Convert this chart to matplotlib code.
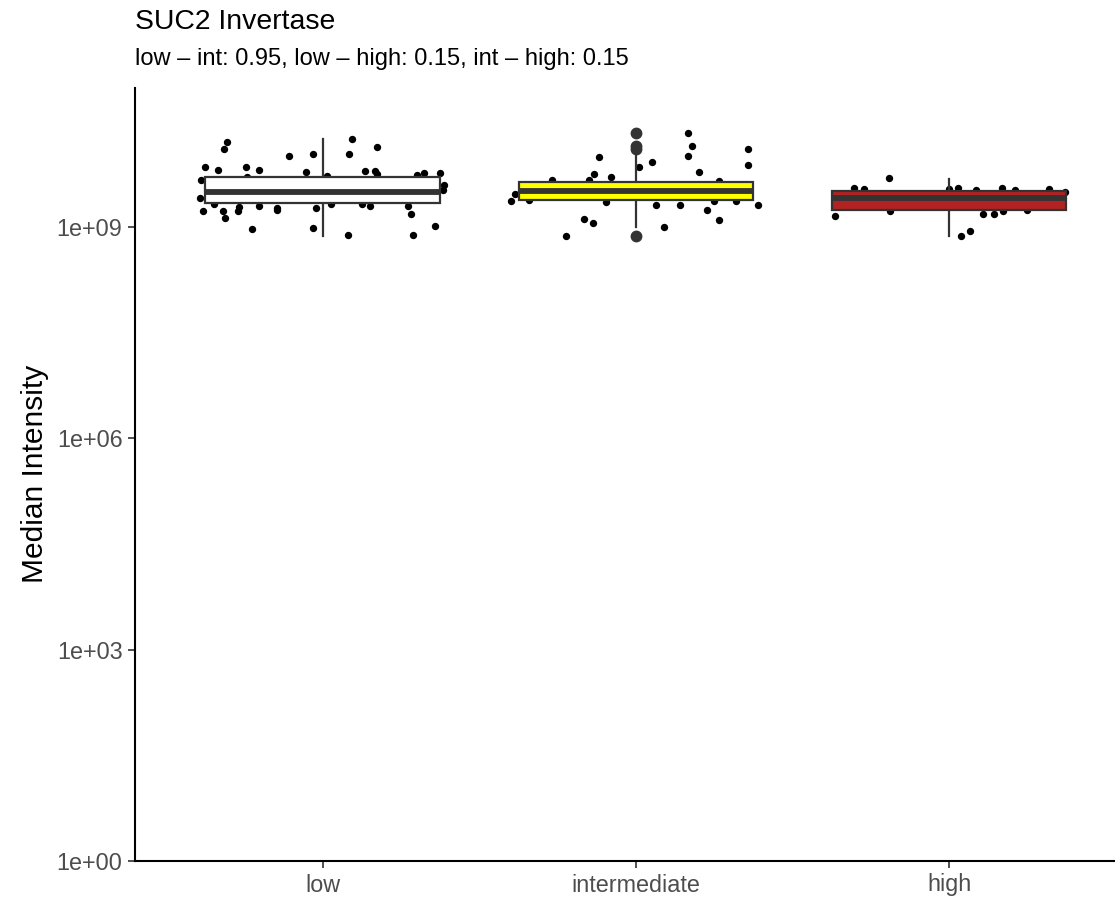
import numpy as np
import matplotlib
matplotlib.use("Agg")
import matplotlib.pyplot as plt

plt.rcParams['font.family'] = ['Liberation Sans', 'DejaVu Sans']

# groups and box colours
groups = ['low', 'intermediate', 'high']
fills = ['#FFFFFF', '#FFFF00', '#B22222']

# jittered points: horizontal offset (category units) and log10 median intensity
low_off = [-0.306, -0.316, -0.375, -0.335, -0.246, -0.204, -0.109, -0.033, -0.053, -0.390,
           -0.242, -0.392, -0.348, -0.384, -0.319, -0.311, -0.269, -0.271, -0.204, -0.145,
           -0.147, -0.227, -0.022, -0.031, 0.092, 0.083, 0.172, 0.134, 0.168, 0.173,
           0.012, 0.300, 0.324, 0.374, 0.387, 0.384, 0.025, 0.126, 0.150, 0.271,
           0.283, 0.358, 0.079, 0.287]
low_log = [10.202, 10.107, 9.856, 9.809, 9.848, 9.809, 10.004, 10.032, 9.785, 9.667,
           9.714, 9.416, 9.322, 9.227, 9.227, 9.124, 9.288, 9.227, 9.302, 9.274,
           9.237, 8.972, 9.265, 8.982, 10.249, 10.032, 10.136, 9.795, 9.795, 9.757,
           9.728, 9.738, 9.771, 9.771, 9.596, 9.521, 9.327, 9.327, 9.294, 9.302,
           9.180, 9.018, 8.886, 8.886]

int_off = [-0.119, -0.133, -0.149, -0.081, -0.268, -0.386, -0.398, -0.342, -0.095, -0.165,
           -0.138, -0.224, 0.009, 0.165, 0.180, 0.165, 0.050, 0.200, 0.357, 0.358,
           0.265, 0.063, 0.141, 0.249, 0.318, 0.390, 0.227, 0.265, 0.089]
int_log = [9.990, 9.752, 9.667, 9.706, 9.667, 9.468, 9.365, 9.383, 9.359, 9.118,
           9.053, 8.876, 9.856, 10.339, 10.154, 10.012, 9.918, 9.777, 10.103, 9.880,
           9.649, 9.308, 9.308, 9.365, 9.373, 9.308, 9.241, 9.099, 8.996]

high_off = [-0.191, -0.303, -0.272, -0.363, -0.189, 0.000, 0.027, 0.086, 0.168, 0.212,
            0.320, 0.370, 0.107, 0.144, 0.171, 0.248, 0.037, 0.066]
high_log = [9.689, 9.549, 9.537, 9.160, 9.234, 9.537, 9.549, 9.518, 9.558, 9.518,
            9.537, 9.501, 9.182, 9.187, 9.227, 9.241, 8.868, 8.943]

# box statistics (log10)
box_q1 = [9.345, 9.383, 9.241]
box_med = [9.501, 9.507, 9.407]
box_q3 = [9.706, 9.643, 9.511]
box_lo = [8.876, 8.996, 8.868]
box_hi = [10.245, 10.012, 9.677]
box_fliers = [[], [10.339, 10.154, 10.103, 8.876], []]

title = 'SUC2 Invertase'
subtitle = 'low \u2013 int: 0.95, low \u2013 high: 0.15, int \u2013 high: 0.15'

W, H = 1115, 898
fig = plt.figure(figsize=(W / 100, H / 100), dpi=100)
ax = fig.add_axes([135 / W, (H - 861) / H, 1 - 135 / W, (861 - 88) / H])

offsets = [low_off, int_off, high_off]
logs = [low_log, int_log, high_log]
for i in range(3):
    ax.scatter(np.array(offsets[i]) + i + 1, 10 ** np.array(logs[i]), s=28,
               color='black', linewidths=0, zorder=1)

stats = []
for i in range(3):
    stats.append(dict(med=10 ** box_med[i], q1=10 ** box_q1[i], q3=10 ** box_q3[i],
                      whislo=10 ** box_lo[i], whishi=10 ** box_hi[i],
                      fliers=10 ** np.array(box_fliers[i])))
bp = ax.bxp(stats, positions=[1, 2, 3], widths=0.75, patch_artist=True,
            showcaps=False, manage_ticks=False,
            boxprops=dict(edgecolor='#333333', linewidth=1.6),
            whiskerprops=dict(color='#333333', linewidth=1.6),
            medianprops=dict(color='#333333', linewidth=4.2, solid_capstyle='butt'),
            flierprops=dict(marker='o', markerfacecolor='#333333',
                            markeredgecolor='#333333', markersize=7.5))
for patch, c in zip(bp['boxes'], fills):
    patch.set_facecolor(c)
    patch.set_zorder(3)
for ln in bp['whiskers']:
    ln.set_zorder(2)
for ln in bp['medians']:
    ln.set_zorder(4)
for ln in bp['fliers']:
    ln.set_zorder(5)

ax.set_yscale('log')
ax.set_ylim(1, 10 ** 10.973)
ax.set_xlim(0.4, 3.53)
ax.set_yticks([1, 1e3, 1e6, 1e9])
ax.set_yticklabels(['1e+00', '1e+03', '1e+06', '1e+09'])
ax.minorticks_off()
ax.set_xticks([1, 2, 3])
ax.set_xticklabels(groups)

for side in ['top', 'right']:
    ax.spines[side].set_visible(False)
for side in ['left', 'bottom']:
    ax.spines[side].set_linewidth(1.5)
    ax.spines[side].set_color('black')
ax.tick_params(axis='both', length=5, width=1.2, color='#333333',
               labelcolor='#4D4D4D', labelsize=16.8, pad=4)

fig.text(35 / W, 1 - 474 / H, 'Median Intensity', fontsize=21.5, color='black',
         rotation=90, ha='center', va='center')
fig.text(135 / W, 1 - 29 / H, title, fontsize=20.4, va='baseline', ha='left')
fig.text(135 / W, 1 - 65 / H, subtitle, fontsize=17, va='baseline', ha='left')

fig.savefig('out.png', dpi=100)
